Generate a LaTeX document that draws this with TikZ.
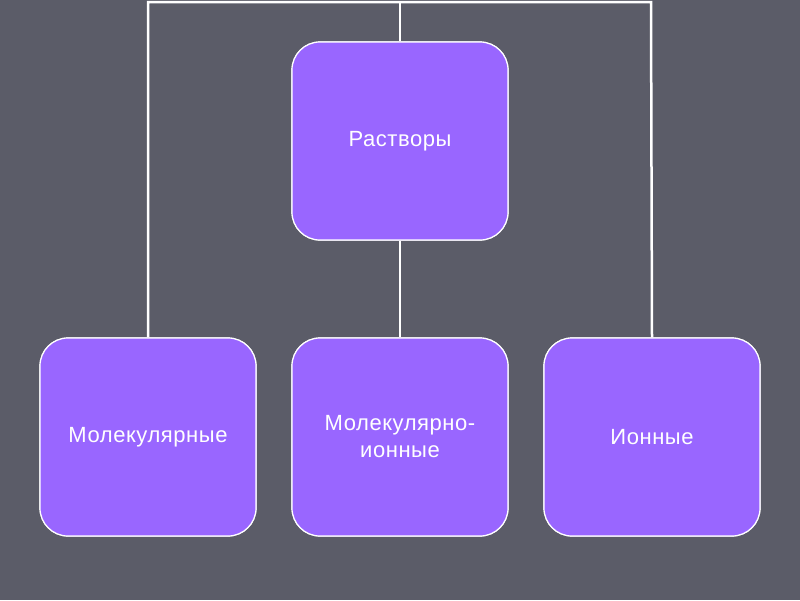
\documentclass[tikz,border=0pt]{standalone}
\usepackage{fontspec}
\setmainfont[LetterSpace=2.5]{Liberation Sans}
\definecolor{slategray}{HTML}{5B5C68}
\definecolor{boxviolet}{HTML}{9966FF}
\begin{document}
\begin{tikzpicture}[
    x=1pt, y=-1pt,
    every node/.style={
        rectangle,
        rounded corners=28pt,
        draw=white,
        line width=1.2pt,
        fill=boxviolet,
        text=white,
        minimum width=216pt,
        minimum height=198pt,
        align=center,
        font=\fontsize{22}{27}\selectfont,
    },
    link/.style={draw=white, line width=2.5pt},
    ]
    \fill[slategray] (0,0) rectangle (800,600);
    \useasboundingbox (0,0) rectangle (800,600);
    % links
    \coordinate (top) at (400,2);
    \coordinate (topL) at (148,2);
    \coordinate (topR) at (651,2);
    \node (root) at (400,141) {Растворы};
    \node (mol) at (148,437) {Молекулярные};
    \node (molion) at (400,437) {Молекулярно-\\ионные};
    \node (ion) at (652,437) {Ионные};
    \draw[link] (mol.north) -- (topL) -- (topR) -- (ion.north);
    \draw[link] (top) -- (root.north);
    \draw[link] (root.south) -- (molion.north);
    % redraw boxes over lines
    \node (root) at (400,141) {Растворы};
    \node (mol) at (148,437) {Молекулярные};
    \node (molion) at (400,437) {Молекулярно-\\ионные};
    \node (ion) at (652,437) {Ионные};
\end{tikzpicture}
\end{document}
